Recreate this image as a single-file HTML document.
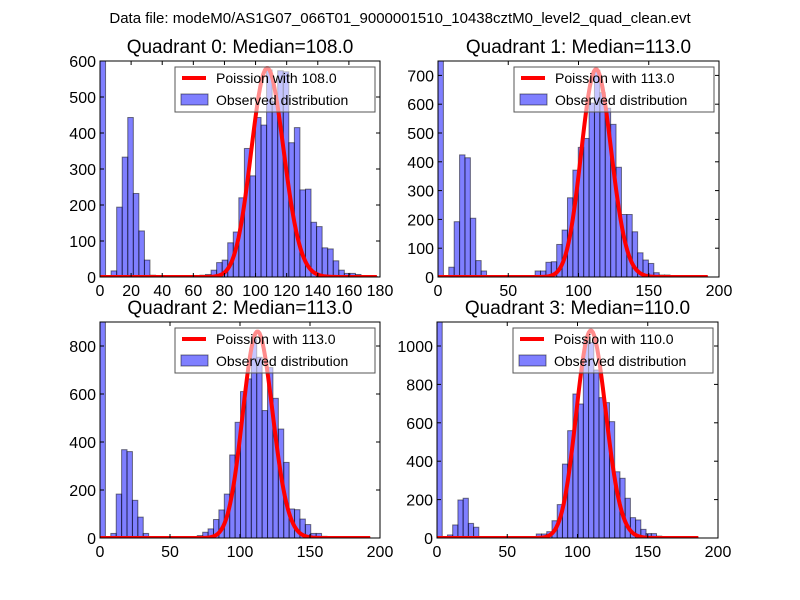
<!DOCTYPE html>
<html><head><meta charset="utf-8"><style>
body{margin:0;background:#fff}
svg{display:block;font-family:"Liberation Sans","DejaVu Sans",sans-serif}
</style></head><body>
<svg id="fig" width="800" height="600" viewBox="0 0 800 600">
<rect width="800" height="600" fill="#fff"/>
<text x="400" y="23" font-size="15" text-anchor="middle">Data file: modeM0/AS1G07_066T01_9000001510_10438cztM0_level2_quad_clean.evt</text>
</svg>
<script>
const quadNames = ["Quadrant 0", "Quadrant 1", "Quadrant 2", "Quadrant 3"];
const medians = [108.0, 113.0, 113.0, 110.0];
const binWidths = [3.57, 3.84, 3.86, 3.72];
const curveEnds = [178, 192, 193, 186];
const curvePeaks = [580, 721, 860, 1080];
const xMaxes = [180, 200, 200, 200];
const yMaxes = [600, 750, 900, 1125];
const xTicks0 = [0,20,40,60,80,100,120,140,160,180];
const xTicks1 = [0,50,100,150,200];
const yTicks0 = [0,100,200,300,400,500,600];
const yTicks1 = [0,100,200,300,400,500,600,700];
const yTicks2 = [0,200,400,600,800];
const yTicks3 = [0,200,400,600,800,1000];
const counts0 = [680,0,17,194,333,443,232,128,47,5,2,1,1,1,1,2,3,4,5,7,19,40,47,95,125,220,357,281,443,422,575,487,573,570,373,415,242,244,152,140,81,78,45,19,10,10,7,2,1,1];
const counts1 = [800,0,34,192,424,414,204,57,21,2,1,1,1,1,1,2,2,3,21,21,51,53,113,163,275,371,450,481,604,718,640,586,530,381,217,217,157,84,59,47,15,7,7,2,1,1,0,0,0,1];
const counts2 = [950,0,19,183,368,360,157,87,19,2,1,0,0,0,1,1,2,3,10,24,38,77,117,183,346,482,610,663,829,753,531,710,582,454,315,121,118,79,56,19,19,7,2,1,1,0,0,1,0,1];
const counts3 = [1200,0,16,68,198,207,76,56,2,1,1,1,1,1,1,1,1,1,2,21,21,33,90,174,385,559,750,698,1035,1018,875,731,705,606,345,311,207,106,94,45,23,23,10,3,2,1,0,0,0,1];

const layout = [
  {left:100, top:61, w:280, h:216},
  {left:438, top:61, w:281, h:216},
  {left:100, top:322, w:280, h:216},
  {left:437, top:322, w:281, h:216}
];
const allCounts = [counts0, counts1, counts2, counts3];
const allXTicks = [xTicks0, xTicks1, xTicks1, xTicks1];
const allYTicks = [yTicks0, yTicks1, yTicks2, yTicks3];

const NS = "http://www.w3.org/2000/svg";
const svg = document.getElementById("fig");
function mk(tag, attrs, parent){
  const e = document.createElementNS(NS, tag);
  for (const k in attrs) e.setAttribute(k, attrs[k]);
  parent.appendChild(e); return e;
}
function lfact(k){ let s=0; for(let i=2;i<=k;i++) s+=Math.log(i); return s; }
function logpmf(k,m){ return k*Math.log(m) - m - lfact(k); }

for (let q=0;q<4;q++){
  const L = layout[q];
  const xs = v => L.left + v / xMaxes[q] * L.w;
  const ys = v => L.top + L.h - v / yMaxes[q] * L.h;
  const g = mk("g", {}, svg);
  
  
  const clipId = "clip" + q;
  const cp = mk("clipPath", {id: clipId}, g);
  mk("rect", {x:L.left, y:L.top, width:L.w, height:L.h}, cp);
  const plot = mk("g", {"clip-path": "url(#" + clipId + ")"}, g);
  const counts = allCounts[q];
  counts.forEach((c,i)=>{
    if (c<=0) return;
    const x0 = xs(i*binWidths[q]), x1 = xs((i+1)*binWidths[q]);
    const r = mk("rect", {x:x0, y:ys(c), width:x1-x0, height:ys(0)-ys(c), fill:"#0000ff", "fill-opacity":0.5, stroke:"#000", "stroke-opacity":0.5, "stroke-width":1}, plot);
    
    
  });
  const m = medians[q];
  const ref = logpmf(Math.floor(m), m);
  let pts = [];
  for (let k=0;k<=curveEnds[q];k++){
    const v = curvePeaks[q]*Math.exp(logpmf(k,m)-ref);
    pts.push(xs(k).toFixed(2)+","+ys(v).toFixed(2));
  }
  const pl = mk("polyline", {points:pts.join(" "), fill:"none", stroke:"#ff0000", "stroke-width":4, "stroke-linejoin":"round"}, plot);
  
  
  const fr = mk("rect", {x:L.left, y:L.top, width:L.w, height:L.h, fill:"none", stroke:"#000", "stroke-width":1}, g);
  
  
  allXTicks[q].forEach(t=>{
    const x = xs(t);
    mk("line", {x1:x, x2:x, y1:L.top+L.h, y2:L.top+L.h-4, stroke:"#000"}, g);
    mk("line", {x1:x, x2:x, y1:L.top, y2:L.top+4, stroke:"#000"}, g);
    const tx = mk("text", {x:x, y:L.top+L.h+19, "font-size":16, "text-anchor":"middle"}, g);
    
    
    tx.textContent = t;
  });
  allYTicks[q].forEach(t=>{
    const y = ys(t);
    mk("line", {x1:L.left, x2:L.left+4, y1:y, y2:y, stroke:"#000"}, g);
    mk("line", {x1:L.left+L.w, x2:L.left+L.w-4, y1:y, y2:y, stroke:"#000"}, g);
    const tx = mk("text", {x:L.left-4, y:y+6, "font-size":16, "text-anchor":"end"}, g);
    
    
    tx.textContent = t;
  });
  const ti = mk("text", {x:L.left+L.w/2, y:L.top-8, "font-size":19, "text-anchor":"middle"}, g);
  
  
  ti.textContent = quadNames[q] + ": Median=" + medians[q].toFixed(1);
  const lx = L.left + L.w - 205, ly = L.top + 6;
  const lg = mk("g", {}, g);
  
  
  mk("rect", {x:lx, y:ly, width:200, height:45, fill:"#fff", "fill-opacity":0.55, stroke:"#555", "stroke-width":1}, lg);
  mk("line", {x1:lx+7, x2:lx+31, y1:ly+11, y2:ly+11, stroke:"#ff0000", "stroke-width":4}, lg);
  const t1 = mk("text", {x:lx+41, y:ly+16, "font-size":14}, lg);
  
  
  t1.textContent = "Poission with " + medians[q].toFixed(1);
  mk("rect", {x:lx+6, y:ly+27, width:27, height:11, fill:"#0000ff", "fill-opacity":0.5, stroke:"#000", "stroke-opacity":0.5}, lg);
  const t2 = mk("text", {x:lx+41, y:ly+38, "font-size":14}, lg);
  
  
  t2.textContent = "Observed distribution";
}
</script>
</body></html>
